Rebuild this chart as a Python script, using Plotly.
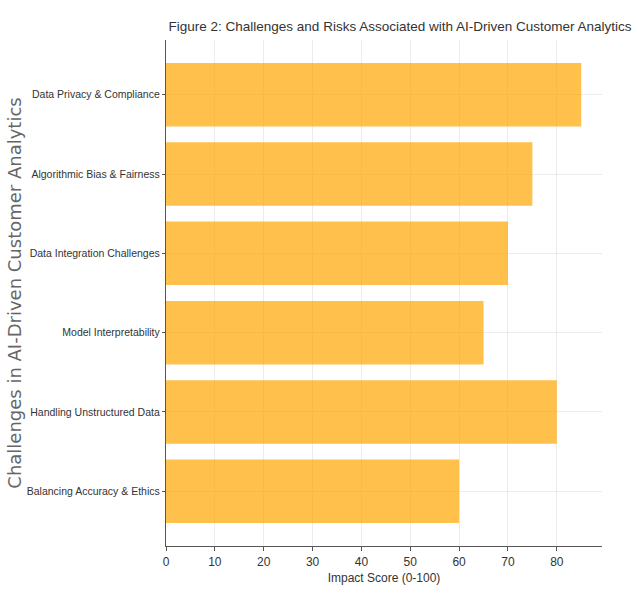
import plotly.graph_objects as go

categories = [
    "Data Privacy & Compliance",
    "Algorithmic Bias & Fairness",
    "Data Integration Challenges",
    "Model Interpretability",
    "Handling Unstructured Data",
    "Balancing Accuracy & Ethics",
]
impact_scores = [85, 75, 70, 65, 80, 60]
x_ticks = [0, 10, 20, 30, 40, 50, 60, 70, 80]

narrow = "Liberation Sans, Arial, sans-serif"

fig = go.Figure(go.Bar(
    x=impact_scores,
    y=categories,
    orientation="h",
    width=0.8,
    marker=dict(color="rgba(255,165,0,0.7)", line=dict(width=0)),
))

fig.update_layout(
    width=638, height=594,
    margin=dict(l=166, r=36, t=40, b=48),
    paper_bgcolor="white", plot_bgcolor="white",
    showlegend=False,
    title=dict(
        text="Figure 2: Challenges and Risks Associated with AI-Driven Customer Analytics",
        font=dict(family=narrow, size=13.5, color="#333333"),
        x=0.627, xanchor="center", y=0.955, yanchor="middle",
    ),
    font=dict(family=narrow, color="#333333"),
)

fig.update_xaxes(
    range=[0, 89.25],
    tickvals=x_ticks,
    ticks="outside", ticklen=4, tickcolor="#555555",
    tickfont=dict(family=narrow, size=12, color="#333333"),
    showgrid=True, gridcolor="rgba(200,200,200,0.35)", gridwidth=1,
    showline=True, linecolor="#555555", linewidth=1.2,
    zeroline=False, automargin=False,
    title=dict(text="Impact Score (0-100)", font=dict(family=narrow, size=12, color="#333333"), standoff=6),
)

fig.update_yaxes(
    autorange=False,
    range=[5.69, -0.69],
    type="category",
    categoryorder="array", categoryarray=categories,
    ticks="outside", ticklen=3, tickcolor="#555555",
    tickfont=dict(family=narrow, size=10.5, color="#333333"),
    showgrid=True, gridcolor="rgba(200,200,200,0.35)", gridwidth=1,
    showline=True, linecolor="#555555", linewidth=1.2,
    zeroline=False, automargin=False,
    title=dict(text="Challenges in AI-Driven Customer Analytics",
               font=dict(family="DejaVu Sans, sans-serif", size=18, color="#666666"), standoff=0),
)

fig.write_html("out.html")
